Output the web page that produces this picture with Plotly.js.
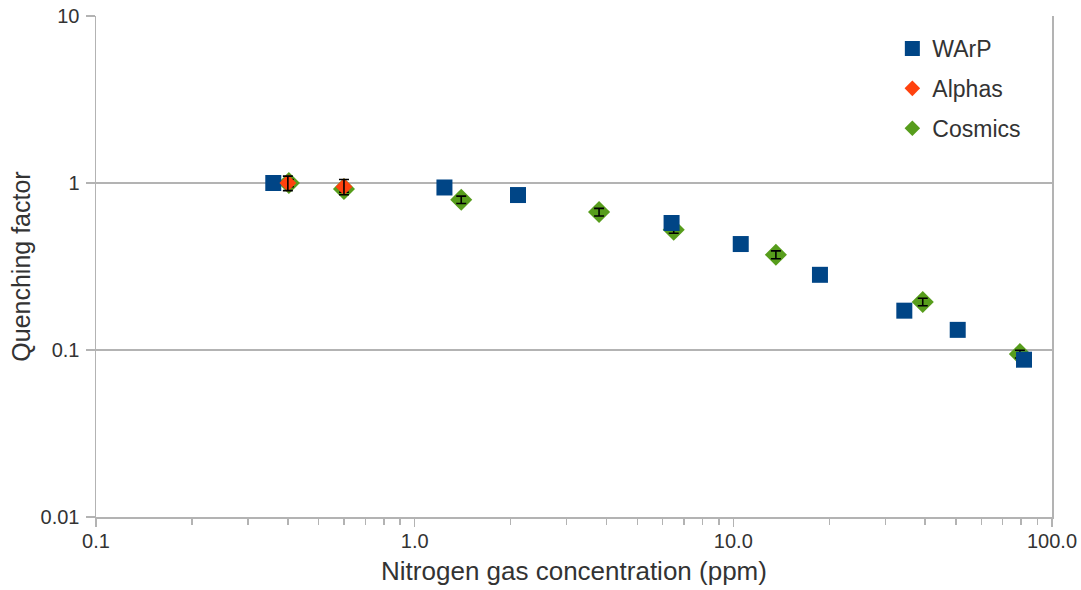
<!DOCTYPE html>
<html>
<head>
<meta charset="utf-8">
<script src="https://cdn.plot.ly/plotly-3.0.1.min.js"></script>
<style>
  html, body { margin: 0; padding: 0; background: #ffffff; }
  #chart { width: 1081px; height: 590px; }
</style>
</head>
<body>
<div id="chart"></div>
<script>
// Quenching factor vs. nitrogen contamination (log–log)
const seriesNames = ['WArP', 'Alphas', 'Cosmics'];

const warpX = [0.36, 1.24, 2.11, 6.4, 10.55, 18.7, 34.4, 50.6, 81.7];
const warpY = [1.0, 0.94, 0.847, 0.576, 0.431, 0.282, 0.172, 0.132, 0.0875];

const alphasX = [0.40, 0.60];
const alphasY = [1.0, 0.95];
const alphasErr = [0.1, 0.1];

const cosmicsX = [0.403, 0.60, 1.40, 3.79, 6.5, 13.6, 39.3, 79.3];
const cosmicsY = [1.0, 0.92, 0.794, 0.67, 0.525, 0.372, 0.194, 0.0946];
const cosmicsErr = [0.05, 0.04, 0.04, 0.035, 0.025, 0.02, 0.01, 0.005];

const xMajorTicks = [0.1, 1, 10, 100];
const xTickLabels = ['0.1', '1.0', '10.0', '100.0'];
const xMinorTicks = [0.2, 0.3, 0.4, 0.5, 0.6, 0.7, 0.8, 0.9,
                     2, 3, 4, 5, 6, 7, 8, 9,
                     20, 30, 40, 50, 60, 70, 80, 90];
const yTicks = [0.01, 0.1, 1, 10];
const yTickLabels = ['0.01', '0.1', '1', '10'];

const COLORS = { WArP: '#004586', Alphas: '#ff420e', Cosmics: '#579d1c' };
const GRID = '#b3b3b3';
const TEXT = '#333333';
const FONT = 'Liberation Sans, Arial, sans-serif';

const errStyle = (arr) => ({
  type: 'data', array: arr, visible: true,
  color: '#000000', thickness: 1.6, width: 5
});

const traces = [
  // cosmic-ray points
  { x: cosmicsX, y: cosmicsY, mode: 'markers', type: 'scatter', showlegend: false,
    marker: { symbol: 'diamond', size: 17, color: COLORS.Cosmics, line: { width: 0 } },
    hoverinfo: 'skip' },
  // their error bars, kept above the diamonds
  { x: cosmicsX, y: cosmicsY, mode: 'markers', type: 'scatter', showlegend: false,
    marker: { size: 2, opacity: 0 }, error_y: errStyle(cosmicsErr), hoverinfo: 'skip' },
  // WArP measurements
  { x: warpX, y: warpY, mode: 'markers', type: 'scatter', showlegend: false,
    marker: { symbol: 'square', size: 16, color: COLORS.WArP, line: { width: 0 } },
    hoverinfo: 'skip' },
  // alpha-source points
  { x: alphasX, y: alphasY, mode: 'markers', type: 'scatter', showlegend: false,
    marker: { symbol: 'diamond', size: 13, color: COLORS.Alphas, line: { width: 0 } },
    hoverinfo: 'skip' },
  { x: alphasX, y: alphasY, mode: 'markers', type: 'scatter', showlegend: false,
    marker: { size: 2, opacity: 0 }, error_y: errStyle(alphasErr), hoverinfo: 'skip' },
  // legend entries
  { x: [null], y: [null], mode: 'markers', type: 'scatter', name: seriesNames[0],
    legendgroup: 'a', legendrank: 1,
    marker: { symbol: 'square', size: 15, color: COLORS.WArP } },
  { x: [null], y: [null], mode: 'markers', type: 'scatter', name: seriesNames[1],
    legendgroup: 'b', legendrank: 2,
    marker: { symbol: 'diamond', size: 12, color: COLORS.Alphas } },
  { x: [null], y: [null], mode: 'markers', type: 'scatter', name: seriesNames[2],
    legendgroup: 'c', legendrank: 3,
    marker: { symbol: 'diamond', size: 12, color: COLORS.Cosmics } }
];

const layout = {
  width: 1081, height: 590,
  margin: { l: 96, r: 29, t: 16, b: 73, pad: 0 },
  paper_bgcolor: '#ffffff', plot_bgcolor: '#ffffff',
  font: { family: FONT, color: TEXT, size: 20 },
  showlegend: true,
  legend: {
    x: 0.833, xanchor: 'left', y: 0.978, yanchor: 'top',
    bgcolor: 'rgba(0,0,0,0)', borderwidth: 0,
    font: { family: FONT, size: 23, color: TEXT },
    traceorder: 'grouped', tracegroupgap: 7, itemsizing: 'trace'
  },
  xaxis: {
    type: 'log', range: [-1, 2], autorange: false,
    tickmode: 'array', tickvals: xMajorTicks, ticktext: xTickLabels,
    ticks: 'outside', ticklen: 8, tickwidth: 1.5, tickcolor: GRID,
    ticklabelstandoff: -3,
    minor: { tickmode: 'array', tickvals: xMinorTicks, ticks: 'outside',
             ticklen: 6, tickwidth: 1.5, tickcolor: GRID, showgrid: false },
    showgrid: false, zeroline: false,
    showline: true, linecolor: GRID, linewidth: 1.5,
    tickfont: { family: FONT, size: 20, color: TEXT },
    title: { text: 'Nitrogen gas concentration (ppm)', standoff: 11,
             font: { family: FONT, size: 26, color: TEXT } }
  },
  yaxis: {
    type: 'log', range: [-2, 1], autorange: false,
    tickmode: 'array', tickvals: yTicks, ticktext: yTickLabels,
    ticks: 'outside', ticklen: 9, tickwidth: 1.5, tickcolor: GRID,
    ticklabelstandoff: 2,
    showgrid: true, gridcolor: GRID, gridwidth: 1.5, zeroline: false,
    showline: true, linecolor: GRID, linewidth: 1.5, mirror: true,
    tickfont: { family: FONT, size: 20, color: TEXT },
    title: { text: 'Quenching factor', standoff: 3,
             font: { family: FONT, size: 25, color: TEXT } }
  }
};

Plotly.newPlot('chart', traces, layout, { displayModeBar: false, staticPlot: true });
</script>
</body>
</html>
